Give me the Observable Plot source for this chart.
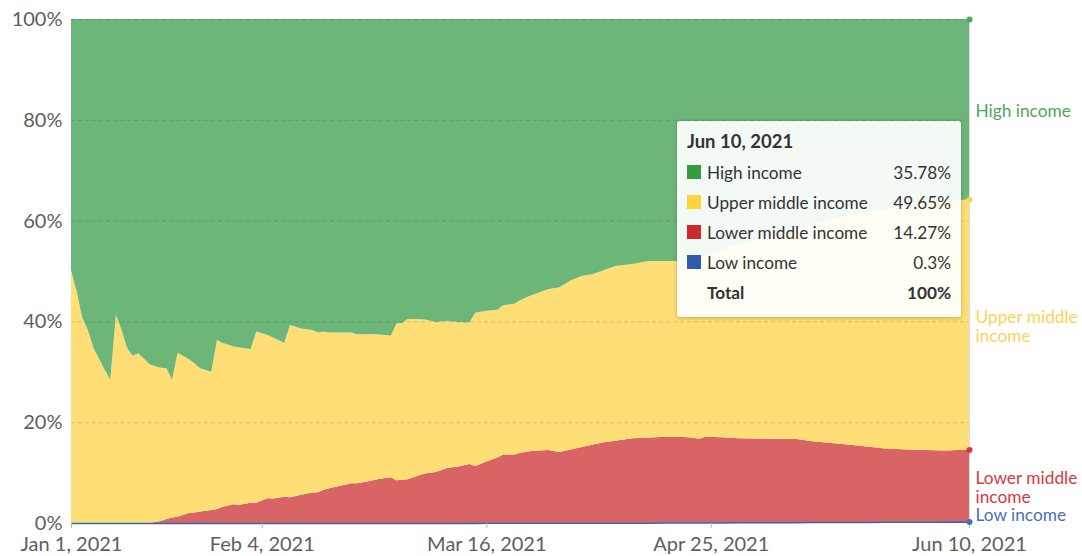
<!DOCTYPE html>
<html><head><meta charset="utf-8">
<script src="https://cdn.jsdelivr.net/npm/d3@7"></script>
<script src="https://cdn.jsdelivr.net/npm/@observablehq/plot@0.6"></script>
<style>
body{margin:0;background:#fff;font-family:Lato,"Noto Sans",sans-serif;}
#wrap{position:relative;width:1082px;height:556px;}
.tip{position:absolute;background:rgba(255,255,255,0.92);border-radius:3px;box-shadow:0 1px 4px rgba(0,0,0,0.22);box-sizing:border-box;padding:7px 10px 10px 10px;color:#333;font-family:Lato,sans-serif;}
.tip .t{font-weight:700;font-size:18.5px;margin:0 0 3px 0;line-height:26px;}
.tip .r{display:flex;align-items:center;font-size:17.2px;height:30px;}
.tip .s{width:14px;height:14px;margin-right:6px;flex:none;}
.tip .n{flex:1;}
.tip .v{text-align:right;}
.tip .tot{font-weight:700;}
</style></head><body><div id="wrap"></div>
<script>
const dates = ["2021-01-01","2021-01-02","2021-01-03","2021-01-04","2021-01-05","2021-01-07","2021-01-08","2021-01-09","2021-01-10","2021-01-11","2021-01-12","2021-01-13","2021-01-15","2021-01-16","2021-01-17","2021-01-18","2021-01-19","2021-01-20","2021-01-22","2021-01-23","2021-01-24","2021-01-26","2021-01-27","2021-01-28","2021-01-30","2021-01-31","2021-02-02","2021-02-03","2021-02-05","2021-02-06","2021-02-08","2021-02-09","2021-02-11","2021-02-13","2021-02-14","2021-02-15","2021-02-16","2021-02-18","2021-02-20","2021-02-21","2021-02-23","2021-02-25","2021-02-27","2021-02-28","2021-03-01","2021-03-02","2021-03-03","2021-03-05","2021-03-07","2021-03-09","2021-03-11","2021-03-13","2021-03-14","2021-03-16","2021-03-18","2021-03-19","2021-03-21","2021-03-22","2021-03-24","2021-03-27","2021-03-29","2021-03-31","2021-04-02","2021-04-04","2021-04-06","2021-04-08","2021-04-11","2021-04-14","2021-04-17","2021-04-19","2021-04-21","2021-04-23","2021-04-24","2021-04-27","2021-04-30","2021-05-03","2021-05-05","2021-05-08","2021-05-10","2021-05-13","2021-05-18","2021-05-22","2021-05-26","2021-05-30","2021-06-02","2021-06-06","2021-06-10"];

const lowIncome = [0,0,0,0,0,0,0,0,0,0,0,0,0,0,0,0,0,0,0,0,0,0,0,0,0,0,0,0,0,0,0,0,0,0,0,0,0,0,0,0,0,0,0,0,0,0.01,0.01,0.01,0.02,0.02,0.02,0.02,0.02,0.03,0.03,0.03,0.03,0.03,0.03,0.04,0.04,0.04,0.04,0.04,0.04,0.04,0.05,0.06,0.08,0.09,0.1,0.11,0.11,0.12,0.13,0.14,0.15,0.16,0.17,0.18,0.2,0.22,0.24,0.26,0.27,0.29,0.3];

const lowerMiddleIncome = [0,0,0,0,0,0,0,0,0,0,0,0,0,0.2,0.4,0.8,1.1,1.25,2.0,2.1,2.3,2.6,2.8,3.2,3.7,3.6,4.0,4.0,4.9,4.85,5.2,5.1,5.6,6.05,6.1,6.6,6.9,7.4,7.9,7.9,8.3,8.8,9.1,8.5,8.6,8.69,9.09,9.79,10.08,10.88,11.18,11.68,11.28,12.17,12.97,13.57,13.57,13.87,14.27,14.46,14.06,14.56,15.06,15.56,15.96,16.26,16.75,16.89,17.02,17.01,16.9,16.59,16.99,16.88,16.67,16.61,16.55,16.54,16.53,16.02,15.5,15.08,14.56,14.34,14.23,14.11,14.27];

const upperMiddleIncome = [50.2,46.0,40.7,38.3,34.7,30.4,28.4,41.3,38.3,34.7,33.2,33.7,31.5,30.9,30.4,29.9,27.3,32.55,30.5,29.6,28.4,27.4,33.5,32.5,31.3,31.2,30.5,34.0,32.4,31.95,30.5,34.2,33.0,32.25,31.7,31.4,30.9,30.4,29.9,29.5,29.2,28.6,28.1,31.1,31.1,31.8,31.4,30.6,29.8,29.2,28.7,28.1,30.4,29.9,29.3,29.6,29.9,30.3,30.9,31.9,32.7,33.5,33.9,33.8,34.2,34.7,34.6,35.05,34.9,34.9,35.3,36.1,36.0,37.1,38.4,39.45,40.1,41.1,41.7,43.1,44.9,46.2,47.4,48.3,48.8,49.4,49.65];

const highIncome = [49.8,54.0,59.3,61.7,65.3,69.6,71.6,58.7,61.7,65.3,66.8,66.3,68.5,68.9,69.2,69.3,71.6,66.2,67.5,68.3,69.3,70.0,63.7,64.3,65.0,65.2,65.5,62.0,62.7,63.2,64.3,60.7,61.4,61.7,62.2,62.0,62.2,62.2,62.2,62.6,62.5,62.6,62.8,60.4,60.3,59.5,59.5,59.6,60.1,59.9,60.1,60.2,58.3,57.9,57.7,56.8,56.5,55.8,54.8,53.6,53.2,51.9,51.0,50.6,49.8,49.0,48.6,48.0,48.0,48.0,47.7,47.2,46.9,45.9,44.8,43.8,43.2,42.2,41.6,40.7,39.4,38.5,37.8,37.1,36.7,36.2,35.78];

const seriesNames = ["Low income","Lower middle income","Upper middle income","High income"];
const seriesValues = [lowIncome, lowerMiddleIncome, upperMiddleIncome, highIncome];
const fillColors = ["#3a64b0","#d96466","#fede75","#6db67a"];
const labelColors = ["#4a6fbc","#d63a3c","#fbd35a","#4fa65e"];
const swatchColors = ["#2f5ca8","#cc2a2a","#fdd33c","#359b40"];
const xTicks = ["2021-01-01","2021-02-04","2021-03-16","2021-04-25","2021-06-10"];
const yTicks = [0,20,40,60,80,100];

const parse = d3.utcParse("%Y-%m-%d");
const rows = [];
seriesNames.forEach((s, k) => dates.forEach((d, i) => rows.push({date: parse(d), series: s, value: seriesValues[k][i]})));
const lastDate = parse(dates[dates.length - 1]);
const lastRows = rows.filter(r => +r.date === +lastDate);
const lowRows = rows.filter(r => r.series === "Low income");
const fmtDate = d3.utcFormat("%b %-d, %Y");
const colorOf = d => labelColors[seriesNames.indexOf(d.series)];

const plot = Plot.plot({
  width: 1082, height: 556,
  marginLeft: 71, marginRight: 113, marginTop: 19, marginBottom: 33,
  style: {fontFamily: "Lato, sans-serif", background: "transparent", overflow: "visible"},
  x: {type: "utc", domain: [parse(dates[0]), lastDate]},
  y: {domain: [0, 100]},
  color: {domain: seriesNames, range: fillColors},
  marks: [
    Plot.areaY(rows, {x: "date", y: "value", z: "series", fill: "series", order: seriesNames, curve: "linear"}),
    Plot.ruleY(yTicks.slice(1), {stroke: "#000", strokeOpacity: 0.13, strokeDasharray: "4,3"}),
    Plot.lineY(lowRows, {x: "date", y: "value", stroke: fillColors[0], strokeWidth: 1.5}),
    Plot.ruleX([lastDate], {stroke: "#ddd", strokeWidth: 1}),
    Plot.axisY({ticks: yTicks, tickFormat: d => d + "%", tickSize: 0, tickPadding: 9, fontSize: 20, fill: "#5e5e5e", label: null}),
    Plot.axisX({ticks: xTicks.map(parse), tickFormat: fmtDate, tickSize: 5, tickPadding: 8, fontSize: 20, fill: "#5e5e5e", stroke: "#bbb", label: null}),
    Plot.dot(lastRows, Plot.stackY2({x: "date", y: "value", z: "series", order: seriesNames, fill: colorOf, r: 3})),
    Plot.text(lastRows, Plot.stackY({x: "date", y: "value", z: "series", order: seriesNames, text: "series", fill: colorOf, filter: d => d.series !== "Low income", textAnchor: "start", dx: 6, fontSize: 17.3, lineWidth: 7.6, lineHeight: 1.06})),
    Plot.text(lastRows, Plot.stackY({x: "date", y: "value", z: "series", order: seriesNames, text: "series", fill: colorOf, filter: d => d.series === "Low income", textAnchor: "start", dx: 6, dy: -7, fontSize: 17.3}))
  ]
});

const wrap = document.getElementById("wrap");
wrap.appendChild(plot);

// tooltip for the last date
const xs = plot.scale("x");
const tipW = 284;
const tip = document.createElement("div");
tip.className = "tip";
tip.style.width = tipW + "px";
tip.style.left = (xs.apply(lastDate) - 8 - tipW) + "px";
tip.style.top = "121px";
const last = seriesValues.map(v => v[v.length - 1]);
const fmtV = v => (+v.toFixed(2)) + "%";
let html = `<div class="t">${fmtDate(lastDate)}</div>`;
for (let k = seriesNames.length - 1; k >= 0; k--) {
  html += `<div class="r"><div class="s" style="background:${swatchColors[k]}"></div><div class="n">${seriesNames[k]}</div><div class="v">${fmtV(last[k])}</div></div>`;
}
html += `<div class="r tot"><div class="s"></div><div class="n">Total</div><div class="v">${fmtV(d3.sum(last))}</div></div>`;
tip.innerHTML = html;
wrap.appendChild(tip);
</script></body></html>
